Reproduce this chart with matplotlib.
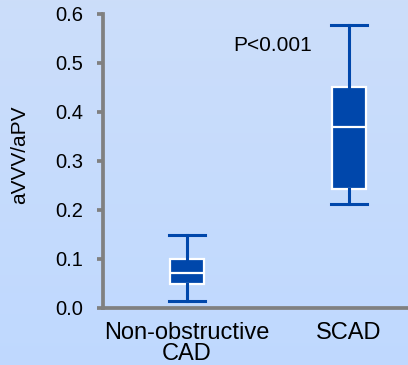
import numpy as np
import matplotlib
matplotlib.use("Agg")
import matplotlib.pyplot as plt

plt.rcParams['font.family'] = ['Liberation Sans', 'DejaVu Sans']

# box statistics
groups = ["Non-obstructive\nCAD", "SCAD"]
whisker_low = [0.014, 0.212]
q1 = [0.048, 0.243]
median = [0.072, 0.369]
q3 = [0.100, 0.452]
whisker_high = [0.148, 0.578]
y_ticks = [0.0, 0.1, 0.2, 0.3, 0.4, 0.5, 0.6]
p_text = "P<0.001"

blue = "#0047AB"
grey = "#808080"

fig = plt.figure(figsize=(4.08, 3.65), dpi=100)

# light blue gradient background
bg = fig.add_axes([0, 0, 1, 1], zorder=-2)
grad = np.linspace(0, 1, 256).reshape(-1, 1)
top_c = np.array([0.80, 0.87, 0.98])
bot_c = np.array([0.75, 0.85, 1.0])
img = top_c * (1 - grad[..., None]) + bot_c * grad[..., None]
bg.imshow(img, aspect='auto', extent=[0, 1, 0, 1])
bg.set_axis_off()

ax = fig.add_axes([0.2525, 0.1562, 0.7475, 0.8055])
ax.patch.set_alpha(0)

stats = []
for i, name in enumerate(groups):
    stats.append({"label": name, "whislo": whisker_low[i], "q1": q1[i],
                  "med": median[i], "q3": q3[i], "whishi": whisker_high[i],
                  "fliers": []})

ax.bxp(stats, positions=[1, 2], widths=0.21, patch_artist=True,
       showfliers=False,
       boxprops=dict(facecolor=blue, edgecolor="white", linewidth=1.6),
       medianprops=dict(color="white", linewidth=1.6),
       whiskerprops=dict(color=blue, linewidth=2.2),
       capprops=dict(color=blue, linewidth=2.2),
       capwidths=0.22)

ax.set_xlim(0.4815, 2.364)
ax.set_ylim(0, 0.6)
ax.set_yticks(y_ticks)
ax.set_yticklabels([f"{v:.1f}" for v in y_ticks])
ax.set_xticks([1, 2])
ax.set_xticklabels(groups, fontsize=17, linespacing=0.95)

for s in ["top", "right"]:
    ax.spines[s].set_visible(False)
for s in ["left", "bottom"]:
    ax.spines[s].set_color(grey)
    ax.spines[s].set_linewidth(2.7)

ax.tick_params(axis='y', length=4.3, width=2.7, color=grey, labelsize=14.5, pad=10)
ax.tick_params(axis='x', length=0, pad=10)

ax.set_ylabel("aVVV/aPV", fontsize=15)
ax.yaxis.set_label_coords(-0.243, 0.52)

ax.text(1.284, 0.536, p_text, fontsize=15, ha='left', va='center')

fig.savefig("out.png", dpi=100)
